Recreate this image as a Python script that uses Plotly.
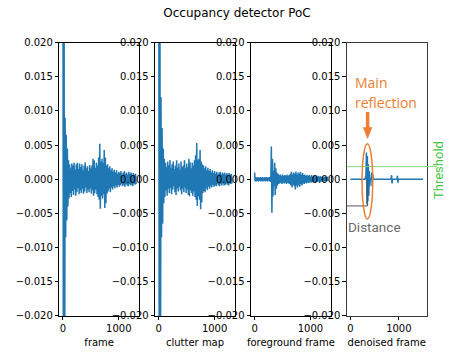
import plotly.graph_objects as go

# ---------------- data (values in units of 1e-3) ----------------
grid_x = list(range(0, 1301, 20))  # sample positions of envelope values

frame_up = [45, 45, 9, 6.5, 4.5, 2.8, 2.2, 1.6, 2.3, 2.0, 2.4, 1.4, 2.2, 2.4, 1.5, 2.3, 1.8, 2.2, 1.3, 2.0,
            2.5, 1.6, 1.9, 1.2, 2.1, 1.6, 2.0, 3.0, 2.8, 1.7, 2.4, 2.0, 3.2, 5.2, 2.6, 3.0, 2.4, 4.3, 3.2, 2.0,
            2.2, 1.6, 1.9, 1.3, 1.6, 1.1, 1.4, 1.0, 1.3, 0.8, 1.1, 0.9, 1.2, 0.7, 1.0, 1.2, 0.8, 1.0, 0.7, 1.1,
            0.8, 1.0, 0.6, 0.9, 0.7, 0.8]
frame_lo = [-45, -45, -8.5, -6.0, -4.0, -2.8, -2.0, -2.6, -1.7, -2.3, -1.5, -2.4, -1.9, -1.3, -2.2, -1.6, -2.0, -1.4, -2.1, -1.8,
            -1.2, -2.0, -1.5, -1.9, -1.3, -2.1, -1.6, -2.4, -2.0, -1.5, -2.2, -2.6, -3.0, -4.3, -2.4, -2.8, -2.2, -4.2, -3.5, -2.1,
            -1.8, -1.4, -1.9, -1.2, -1.5, -1.0, -1.3, -0.9, -1.2, -0.8, -1.1, -0.9, -0.7, -1.0, -0.8, -1.1, -0.7, -0.9, -1.0, -0.7,
            -0.9, -0.8, -1.0, -0.6, -0.8, -0.7]

clutter_up = [45, 45, 12, 7.5, 4.5, 3.0, 2.4, 1.8, 2.6, 2.0, 2.8, 1.6, 2.2, 2.6, 1.5, 2.0, 2.8, 1.7, 2.3, 1.4,
              2.6, 1.8, 2.0, 2.8, 1.6, 2.3, 1.8, 3.0, 2.5, 1.6, 2.4, 2.0, 2.8, 3.5, 5.3, 2.8, 3.0, 4.3, 2.6, 2.2,
              2.0, 1.6, 1.9, 1.3, 1.7, 1.2, 1.5, 1.0, 1.3, 0.9, 1.2, 0.8, 1.1, 0.7, 1.0, 1.1, 0.7, 1.0, 0.8, 1.0,
              0.7, 0.9, 0.6, 0.9, 0.7, 0.8]
clutter_lo = [-45, -45, -8.5, -6.5, -3.5, -2.6, -1.6, -2.4, -1.4, -2.0, -1.2, -2.2, -1.5, -1.0, -1.9, -2.3, -1.3, -1.8, -1.1, -1.6,
              -2.2, -1.4, -1.9, -1.2, -2.0, -1.5, -2.3, -2.5, -1.6, -2.0, -2.4, -1.8, -2.6, -3.0, -3.9, -2.5, -3.0, -4.4, -3.4, -2.0,
              -1.7, -1.9, -1.3, -1.6, -1.1, -1.4, -1.0, -1.2, -0.8, -1.1, -0.9, -1.0, -0.7, -0.9, -1.0, -0.7, -0.9, -0.6, -0.9, -0.8,
              -0.6, -0.8, -0.9, -0.6, -0.7, -0.6]

fg_up = [1.0, 0.3, 0.25, 0.3, 0.2, 0.3, 0.25, 0.3, 0.2, 0.3, 0.25, 0.3, 0.2, 0.3, 0.35, 4.8, 3.0, 1.2, 2.4, 1.6,
         1.0, 0.8, 0.6, 0.7, 0.5, 0.7, 0.5, 0.6, 0.5, 0.7, 0.5, 0.6, 0.8, 1.1, 0.7, 1.0, 0.8, 1.15, 0.7, 1.0,
         0.8, 1.1, 0.7, 0.9, 0.6, 0.7, 0.5, 0.6, 0.5, 0.6, 0.4, 0.6, 0.4, 0.5, 0.4, 0.5, 0.35, 0.5, 0.4, 0.45,
         0.35, 0.4, 0.3, 0.4, 0.3, 0.35]
fg_lo = [-0.3, -0.3, -0.25, -0.3, -0.2, -0.3, -0.25, -0.3, -0.2, -0.3, -0.25, -0.3, -0.2, -0.3, -0.4, -4.9, -2.5, -1.0, -2.3, -1.4,
         -0.9, -0.7, -0.6, -0.5, -0.7, -0.5, -0.6, -0.5, -0.7, -0.5, -0.6, -0.7, -0.9, -1.2, -0.8, -1.0, -1.5, -0.9, -1.2, -0.8,
         -1.1, -0.7, -0.9, -0.6, -0.7, -0.5, -0.6, -0.45, -0.55, -0.4, -0.5, -0.4, -0.45, -0.35, -0.45, -0.35, -0.4, -0.3, -0.4, -0.3,
         -0.35, -0.3, -0.35, -0.25, -0.3, -0.25]

den_x = [0, 300, 320, 330, 340, 350, 360, 370, 380, 390, 400, 410, 430, 440, 450, 460, 470, 840, 850, 860, 870,
         960, 970, 980, 990, 1500]
den_y = [0, 0, 0.5, 3.9, -3.7, 3.4, -3.2, 2.2, -2.4, 1.2, -1.0, 0, 0, 1.0, -1.0, 0.8, 0, 0, 0.6, -0.6, 0,
         0, 0.5, -0.5, 0, 0]

threshold = 1.85  # 1e-3
distance_level = -3.9  # 1e-3

panel_titles = ["frame", "clutter map", "foreground frame", "denoised frame"]
title_text = "Occupancy detector PoC"

for arr in (frame_up, frame_lo, clutter_up, clutter_lo, fg_up, fg_lo):
    assert len(arr) == len(grid_x), len(arr)
assert len(den_x) == len(den_y)

SCALE = 1e-3


def zigzag(up, lo):
    xs, ys = [], []
    for x, u, l in zip(grid_x, up, lo):
        xs += [x, x + 10]
        ys += [u * SCALE, l * SCALE]
    return xs, ys


BLUE = "#1f77b4"
ORANGE = "#ED7D31"
GREEN_LINE = "#7ED67E"
GREEN_TEXT = "#45C645"
GRAY = "#6a6a6a"

W, H = 474, 355
fig = go.Figure()

series = [zigzag(frame_up, frame_lo), zigzag(clutter_up, clutter_lo), zigzag(fg_up, fg_lo),
          (den_x, [v * SCALE for v in den_y])]

left0, width, step = 59.25, 79.9, 95.85
ydom = [0.11, 0.88]
xranges = [[-65, 1365]] * 3 + [[-75, 1575]]

for i, (xs, ys) in enumerate(series):
    n = "" if i == 0 else str(i + 1)
    fig.add_trace(go.Scatter(x=xs, y=ys, mode="lines", line=dict(color=BLUE, width=1.5),
                             xaxis="x" + n, yaxis="y" + n, showlegend=False, hoverinfo="skip"))
    dom = [(left0 + i * step) / W, (left0 + i * step + width) / W]
    frame_col = "#3a3a3a" if i == 3 else "black"
    axis_common = dict(showline=True, mirror=True, linecolor=frame_col, linewidth=0.8,
                       ticks="outside", ticklen=3.5, tickwidth=0.8, tickcolor="black",
                       showgrid=False, zeroline=False, automargin=False,
                       tickfont=dict(family="DejaVu Sans", size=10, color="black"))
    fig.layout["xaxis" + n] = dict(axis_common, domain=dom, range=xranges[i], tickmode="array",
                                   tickvals=[0, 1000], ticktext=["0", "1000"],
                                   anchor="y" + n,
                                   title=dict(text=panel_titles[i], standoff=5,
                                              font=dict(family="DejaVu Sans", size=10, color="black")))
    fig.layout["yaxis" + n] = dict(axis_common, domain=ydom, range=[-0.02, 0.02], dtick=0.005,
                                   tickformat=".3f", anchor="x" + n)

# ---------- annotations drawn on the denoised panel ----------
shapes = []
annotations = []
# threshold line
shapes.append(dict(type="line", xref="paper", yref="y4", x0=346.7 / W, x1=437 / W,
                   y0=threshold * SCALE, y1=threshold * SCALE, line=dict(color=GREEN_LINE, width=1)))
# distance L-shape
shapes.append(dict(type="line", xref="x4", yref="y4", x0=-75, x1=355, y0=distance_level * SCALE,
                   y1=distance_level * SCALE, line=dict(color="#555555", width=1)))
shapes.append(dict(type="line", xref="x4", yref="y4", x0=355, x1=355, y0=distance_level * SCALE,
                   y1=0, line=dict(color="#555555", width=1)))
# ellipse around main reflection
shapes.append(dict(type="circle", xref="x4", yref="y4", x0=240, x1=460, y0=-0.0058, y1=0.0052,
                   line=dict(color=ORANGE, width=1.5)))
# arrow: shaft + head
shapes.append(dict(type="line", xref="paper", yref="paper", x0=367.6 / W, x1=367.6 / W,
                   y0=1 - 112 / H, y1=1 - 129 / H, line=dict(color=ORANGE, width=3.5)))
shapes.append(dict(type="path", xref="paper", yref="paper",
                   path=f"M {363.2 / W} {1 - 127.5 / H} L {372.0 / W} {1 - 127.5 / H} L {367.6 / W} {1 - 138.5 / H} Z",
                   fillcolor=ORANGE, line=dict(color=ORANGE, width=0.5)))

annotations.append(dict(text="Main", xref="paper", yref="paper", x=353 / W, y=1 - 82 / H,
                        xanchor="left", yanchor="middle", showarrow=False,
                        font=dict(family="Open Sans", size=14, color=ORANGE)))
annotations.append(dict(text="reflection", xref="paper", yref="paper", x=353 / W, y=1 - 102 / H,
                        xanchor="left", yanchor="middle", showarrow=False,
                        font=dict(family="Open Sans", size=14, color=ORANGE)))
annotations.append(dict(text="Distance", xref="paper", yref="paper", x=346 / W, y=1 - 227 / H,
                        xanchor="left", yanchor="middle", showarrow=False,
                        font=dict(family="Liberation Sans Narrow, Roboto", size=13.5, color=GRAY)))
annotations.append(dict(text="Threshold", xref="paper", yref="paper", x=438 / W, y=1 - 170 / H,
                        xanchor="center", yanchor="middle", showarrow=False, textangle=-90,
                        font=dict(family="Liberation Sans Narrow, Roboto", size=13, color=GREEN_TEXT)))

fig.update_layout(
    width=W, height=H,
    margin=dict(l=0, r=0, t=0, b=0, autoexpand=False),
    paper_bgcolor="white", plot_bgcolor="white",
    title=dict(text=title_text, x=0.5, xanchor="center", y=1 - 13 / H, yanchor="middle",
               font=dict(family="DejaVu Sans", size=12, color="black"), automargin=False),
    shapes=shapes, annotations=annotations,
)

fig.write_html("out.html", config={"displayModeBar": False},
               post_script="document.body.style.margin='0px';")
